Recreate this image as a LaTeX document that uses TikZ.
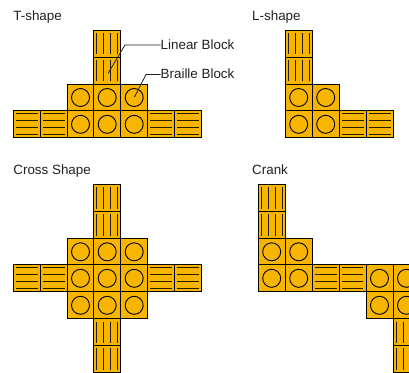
\documentclass[tikz,border=0pt]{standalone}
\usepackage{fontspec}
\setmainfont{Liberation Sans}
\definecolor{blockfill}{HTML}{F7B500}
\definecolor{ink}{HTML}{231F20}
\tikzset{
  x=1bp,y=-1bp,
  block/.style={draw=black,fill=blockfill,line width=1bp,minimum size=27bp,inner sep=0pt,outer sep=0pt,anchor=north west},
  hatch/.style={draw=black!85!blockfill,line width=1bp},
  ring/.style={draw=black,line width=0.9bp},
  title/.style={anchor=base west,inner sep=0pt,text=ink,font=\fontsize{13.4bp}{15bp}\selectfont},
  leader/.style={draw=ink,line width=0.8bp}
}
\newcommand{\lin}[3]{%
  \node[block] (#1) at (#2,#3) {};
  \foreach \o in {3,10,17,24}{\draw[hatch] (#2+\o,#3+2.7) -- (#2+\o,#3+24.3);}
}
\newcommand{\hor}[3]{%
  \node[block] (#1) at (#2,#3) {};
  \foreach \o in {3,10,17,24}{\draw[hatch] (#2+2.7,#3+\o) -- (#2+24.3,#3+\o);}
}
\newcommand{\cir}[3]{%
  \node[block] (#1) at (#2,#3) {};
  \draw[ring] (#1.center) circle[radius=9bp];
}
\begin{document}
\begin{tikzpicture}
\useasboundingbox (0,0) rectangle (409,373);
% T-shape
\node[title] (t1) at (13.2,20) {T-shape};
\lin{ta}{93.7}{30}\lin{tb}{93.7}{57}
\cir{tc}{67}{84}\cir{td}{93.7}{84}\cir{te}{120.7}{84}
\hor{tf}{13.2}{110.8}\hor{tg}{40.2}{110.8}\cir{th}{67}{110.8}\cir{ti}{93.7}{110.8}\cir{tj}{120.7}{110.8}\hor{tk}{147.7}{110.8}\hor{tl}{174.7}{110.8}
% labels
\node[title] (lin) at (160.5,49.8) {Linear Block};
\node[title] (bra) at (160.5,78.8) {Braille Block};
\coordinate (la) at (125,45);
\coordinate (lb) at (108,73.5);
\coordinate (ba) at (146,74.5);
\coordinate (bb) at (134.5,97);
\draw[leader] (lin.west |- la) -- (la) -- (lb);
\draw[leader] (bra.west |- ba) -- (ba) -- (bb);
% L-shape
\node[title] (t2) at (252,20) {L-shape};
\lin{la1}{285.2}{30}\lin{la2}{285.2}{57}
\cir{la3}{285.2}{84}\cir{la4}{312.2}{84}
\cir{la5}{285.2}{110.8}\cir{la6}{312.2}{110.8}\hor{la7}{339.2}{110.8}\hor{la8}{366.2}{110.8}
% Cross
\node[title] (t3) at (13.2,174) {Cross Shape};
\lin{ca}{93.7}{184.3}\lin{cb}{93.7}{211.3}
\cir{cc}{67}{238.3}\cir{cd}{93.7}{238.3}\cir{ce}{120.7}{238.3}
\hor{cf}{13.2}{264.8}\hor{cg}{40.2}{264.8}\cir{ch}{67}{264.8}\cir{ci}{93.7}{264.8}\cir{cj}{120.7}{264.8}\hor{ck}{147.7}{264.8}\hor{cl}{174.7}{264.8}
\cir{cm}{67}{291.8}\cir{cn}{93.7}{291.8}\cir{co}{120.7}{291.8}
\lin{cp}{93.7}{318.8}\lin{cq}{93.7}{345.3}
% Crank
\node[title] (t4) at (252,174) {Crank};
\lin{ra}{258.2}{184.3}\lin{rb}{258.2}{211.3}
\cir{rc}{258.2}{238.3}\cir{rd}{285.2}{238.3}
\cir{re}{258.2}{264.8}\cir{rf}{285.2}{264.8}\hor{rg}{312.2}{264.8}\hor{rh}{339}{264.8}\cir{ri}{366}{264.8}\cir{rj}{393}{264.8}
\cir{rk}{366}{291.8}\cir{rl}{393}{291.8}
\lin{rm}{393}{318.8}\lin{rn}{393}{345.3}
\end{tikzpicture}
\end{document}
